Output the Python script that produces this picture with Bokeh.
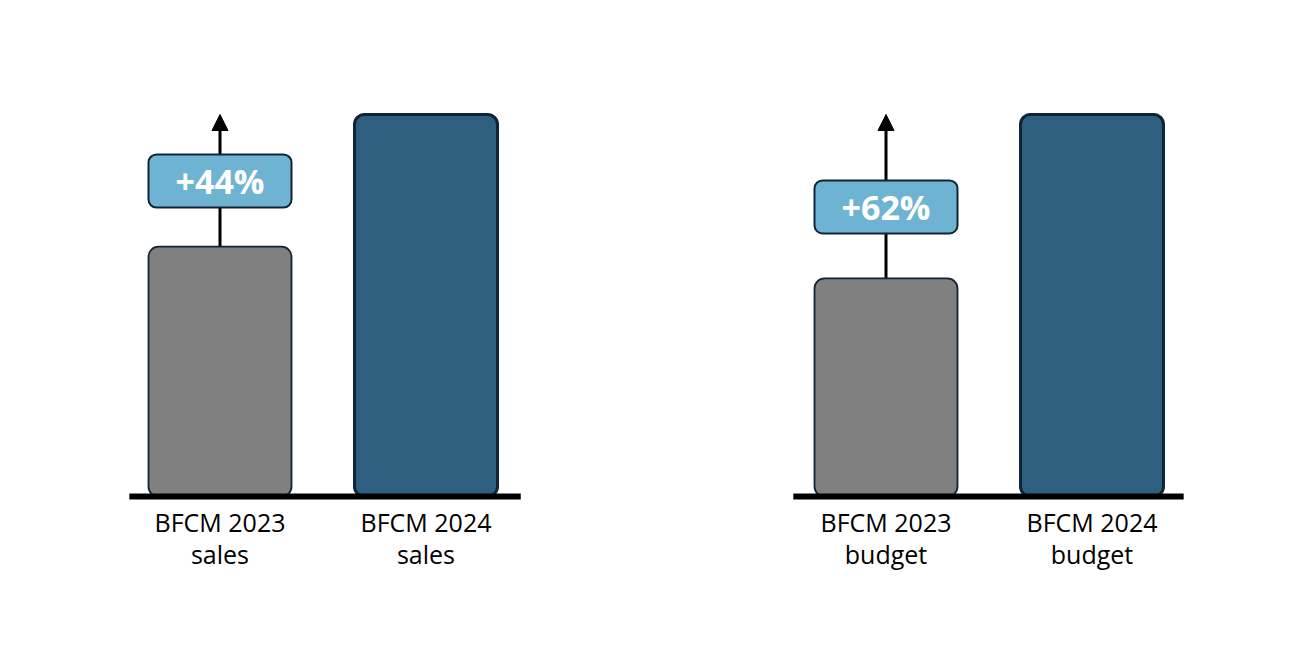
from bokeh.plotting import figure
from bokeh.layouts import row
from bokeh.models import ColumnDataSource, Range1d, Arrow, NormalHead
from bokeh.core.properties import value
from bokeh.embed import file_html
from bokeh.resources import INLINE

# ---- data (bar heights relative to BFCM 2024 = 100) ----
categories_sales = ["BFCM 2023\nsales", "BFCM 2024\nsales"]
values_sales = [65.4, 100.0]
growth_sales = "+44%"

categories_budget = ["BFCM 2023\nbudget", "BFCM 2024\nbudget"]
values_budget = [57.1, 100.0]
growth_budget = "+62%"

# ---- styles ----
BAR_COLORS = ["#808080", "#2E5F80"]
BAR_LINE_W = [1.8, 3.0]
OUTLINE = "#0F2436"
BADGE = "#6EB4D2"
FONT = "Open Sans"

W, H = 638, 654
STEP = 206.0          # px between category centres
BAR_W = 143 / STEP
PX_PER_UNIT = 3.82
BASE_PX = 496         # baseline distance from figure top
Y_TOP = BASE_PX / PX_PER_UNIT
Y_BOT = -(H - BASE_PX) / PX_PER_UNIT


def panel(cats, vals, growth, x_start, badge_center, base_l, base_r):
    p = figure(width=W, height=H, output_backend="svg", toolbar_location=None,
               x_range=Range1d(x_start, x_start + W / STEP),
               y_range=Range1d(Y_BOT, Y_TOP), min_border=0)
    p.axis.visible = False
    p.grid.visible = False
    p.outline_line_color = None

    xs = list(range(len(vals)))
    src = ColumnDataSource(dict(x=xs, top=vals, cat=cats, color=BAR_COLORS, lw=BAR_LINE_W))

    # growth arrow (under the badge)
    arrow = Arrow(x_start=xs[0], y_start=vals[0], x_end=xs[0], y_end=vals[1],
                  line_width=3, line_color="black",
                  end=NormalHead(size=16, fill_color="black", line_color="black", line_width=1),
                  level="underlay")
    p.add_layout(arrow)

    p.vbar(x="x", top="top", bottom=0, width=BAR_W, source=src,
           fill_color="color", line_color=OUTLINE, line_width="lw", border_radius=10)

    # baseline
    p.line(x=[base_l, base_r], y=[0, 0], line_width=6, line_color="black")

    # badge
    half_h = 6.95
    p.quad(left=[xs[0] - BAR_W / 2], right=[xs[0] + BAR_W / 2],
           bottom=[badge_center - half_h], top=[badge_center + half_h],
           fill_color=BADGE, line_color=OUTLINE, line_width=2, border_radius=8)
    p.text(x=[xs[0]], y=[badge_center], text=[growth], text_align="center",
           text_baseline="middle", text_color="white", text_font=value(FONT),
           text_font_size="34px", text_font_style="bold")

    # category labels
    p.text(x="x", y=0, text="cat", source=src, text_align="center",
           text_baseline="top", y_offset=8, text_color="black",
           text_font=value(FONT), text_font_size="25px", text_line_height=0.96)
    return p


left = panel(categories_sales, values_sales, growth_sales, -219.5 / STEP, 82.6, -0.44, 1.46)
right = panel(categories_budget, values_budget, growth_budget, -(885.5 - W) / STEP, 75.8, -0.45, 1.445)

layout = row(left, right)
open("out.html", "w").write(file_html(layout, INLINE))
